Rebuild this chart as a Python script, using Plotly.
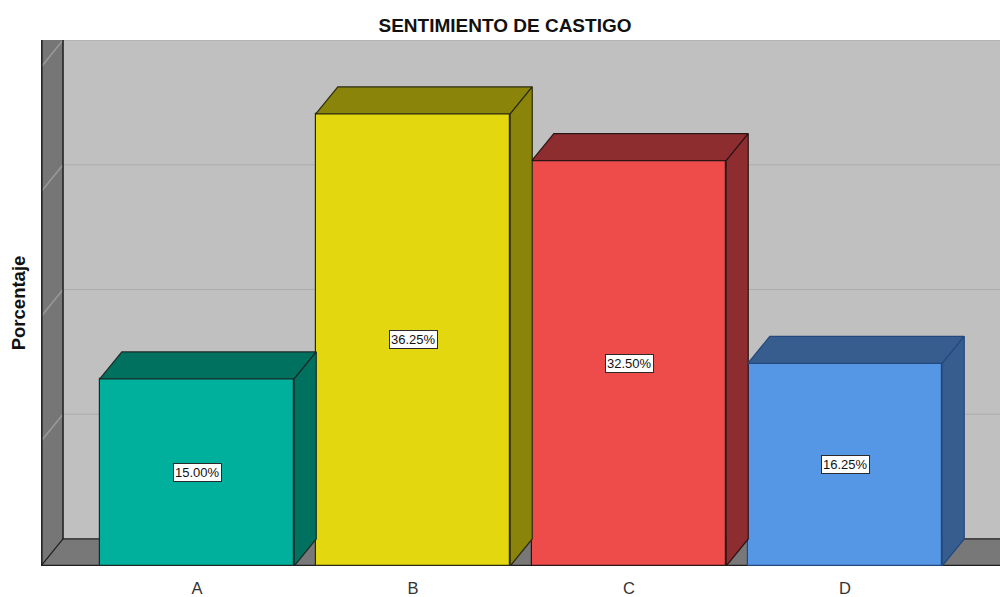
import plotly.graph_objects as go

# Survey results: share of respondents per answer
categories = ["A", "B", "C", "D"]
percentages = [15.00, 36.25, 32.50, 16.25]
value_labels = ["15.00%", "36.25%", "32.50%", "16.25%"]
gridline_values = [0, 10, 20, 30, 40]

front_colors = ["#00b09c", "#e3d80f", "#ee4b4b", "#5596e5"]
shade_colors = ["#00705f", "#8b840a", "#8e2d2f", "#365d8e"]
edge_colors = ["#1c2a26", "#2a2a10", "#2a1414", "#24487e"]

# 3D box geometry in data units
BAR_W = 0.9        # front face width (category units)
DX = 0.102         # depth offset along x
DY = 2.17          # depth offset along y (percent units)
X_MIN, X_MAX = -0.7222, 3.7176
Y_RANGE = [0, 42.18]

fig = go.Figure()

shapes = []
# back wall
shapes.append(dict(type="rect", xref="x", yref="y", layer="below",
                   x0=X_MIN + DX, x1=X_MAX + 1, y0=DY, y1=Y_RANGE[1] + 1,
                   fillcolor="#c0c0c0", line=dict(width=0)))
# back wall gridlines
for g in gridline_values[1:]:
    shapes.append(dict(type="line", xref="x", yref="y", layer="below",
                       x0=X_MIN + DX, x1=X_MAX + 1, y0=g + DY, y1=g + DY,
                       line=dict(color="#acacac", width=1)))
# left wall
shapes.append(dict(type="path", xref="x", yref="y", layer="below",
                   path=f"M {X_MIN},{0} L {X_MIN + DX},{DY} L {X_MIN + DX},{Y_RANGE[1] + 1} "
                        f"L {X_MIN},{Y_RANGE[1] + 1} Z",
                   fillcolor="#767676", line=dict(width=0)))
# left wall gridline diagonals
for g in gridline_values[1:]:
    shapes.append(dict(type="line", xref="x", yref="y", layer="below",
                       x0=X_MIN, x1=X_MIN + DX, y0=g, y1=g + DY,
                       line=dict(color="#9a9a9a", width=1.5)))
# left wall edges
for xv in (X_MIN + 0.004, X_MIN + DX):
    shapes.append(dict(type="line", xref="x", yref="y", layer="below",
                       x0=xv, x1=xv, y0=0, y1=Y_RANGE[1] + 1,
                       line=dict(color="#1e1e1e", width=1.5)))
# floor
shapes.append(dict(type="path", xref="x", yref="y", layer="below",
                   path=f"M {X_MIN},{0} L {X_MIN + DX},{DY} L {X_MAX + 1},{DY} L {X_MAX + 1},{0} Z",
                   fillcolor="#787878", line=dict(width=0)))
shapes.append(dict(type="line", xref="x", yref="y", layer="below",
                   x0=X_MIN, x1=X_MIN + DX, y0=0, y1=DY, line=dict(color="#1e1e1e", width=1.2)))
shapes.append(dict(type="line", xref="x", yref="y", layer="below",
                   x0=X_MIN + DX, x1=X_MAX + 1, y0=DY, y1=DY, line=dict(color="#1e1e1e", width=1.2)))
shapes.append(dict(type="line", xref="x", yref="y", layer="below",
                   x0=X_MIN, x1=X_MAX + 1, y0=0.05, y1=0.05, line=dict(color="#1e1e1e", width=1.5)))

# bars: front faces
fig.add_trace(go.Bar(
    x=list(range(len(categories))), y=percentages, width=BAR_W,
    marker=dict(color=front_colors, line=dict(color=edge_colors, width=1.2)),
    hoverinfo="skip", showlegend=False,
))

# bars: top and side faces
for i, v in enumerate(percentages):
    xl, xr = i - BAR_W / 2, i + BAR_W / 2
    top_x = [xl, xl + DX, xr + DX, xr, xl]
    top_y = [v, v + DY, v + DY, v, v]
    side_x = [xr, xr + DX, xr + DX, xr, xr]
    side_y = [0, DY, v + DY, v, 0]
    for px, py in ((top_x, top_y), (side_x, side_y)):
        fig.add_trace(go.Scatter(
            x=px, y=py, mode="lines", fill="toself",
            fillcolor=shade_colors[i], line=dict(color=edge_colors[i], width=1.2),
            hoverinfo="skip", showlegend=False,
        ))

# value labels
annotations = []
for i, (v, lab) in enumerate(zip(percentages, value_labels)):
    annotations.append(dict(
        x=i, y=v / 2, xref="x", yref="y", text=lab, showarrow=False,
        font=dict(family="Liberation Sans, Arial", size=13, color="#111111"),
        bgcolor="#ffffff", bordercolor="#2a2a2a", borderwidth=1, borderpad=1,
    ))

fig.update_layout(
    width=1000, height=597,
    margin=dict(l=41, r=0, t=40, b=31),
    paper_bgcolor="#ffffff", plot_bgcolor="#ffffff",
    title=dict(text="<b>SENTIMIENTO DE CASTIGO</b>", x=0.505, xanchor="center",
               y=0.958, yanchor="middle",
               font=dict(family="Liberation Sans, Arial", size=19, color="#111111")),
    shapes=shapes, annotations=annotations,
    bargap=0,
    xaxis=dict(range=[X_MIN, X_MAX], tickvals=list(range(len(categories))), ticktext=categories,
               showgrid=False, zeroline=False, showline=False, ticks="",
               ticklabelstandoff=10,
               tickfont=dict(family="Liberation Sans, Arial", size=16.5, color="#333333")),
    yaxis=dict(range=Y_RANGE, showgrid=False, zeroline=False, showline=False,
               showticklabels=False, ticks="",
               title=dict(text="<b>Porcentaje</b>", standoff=9,
                          font=dict(family="Liberation Sans, Arial", size=18.5, color="#111111"))),
)

fig.write_html("out.html")
